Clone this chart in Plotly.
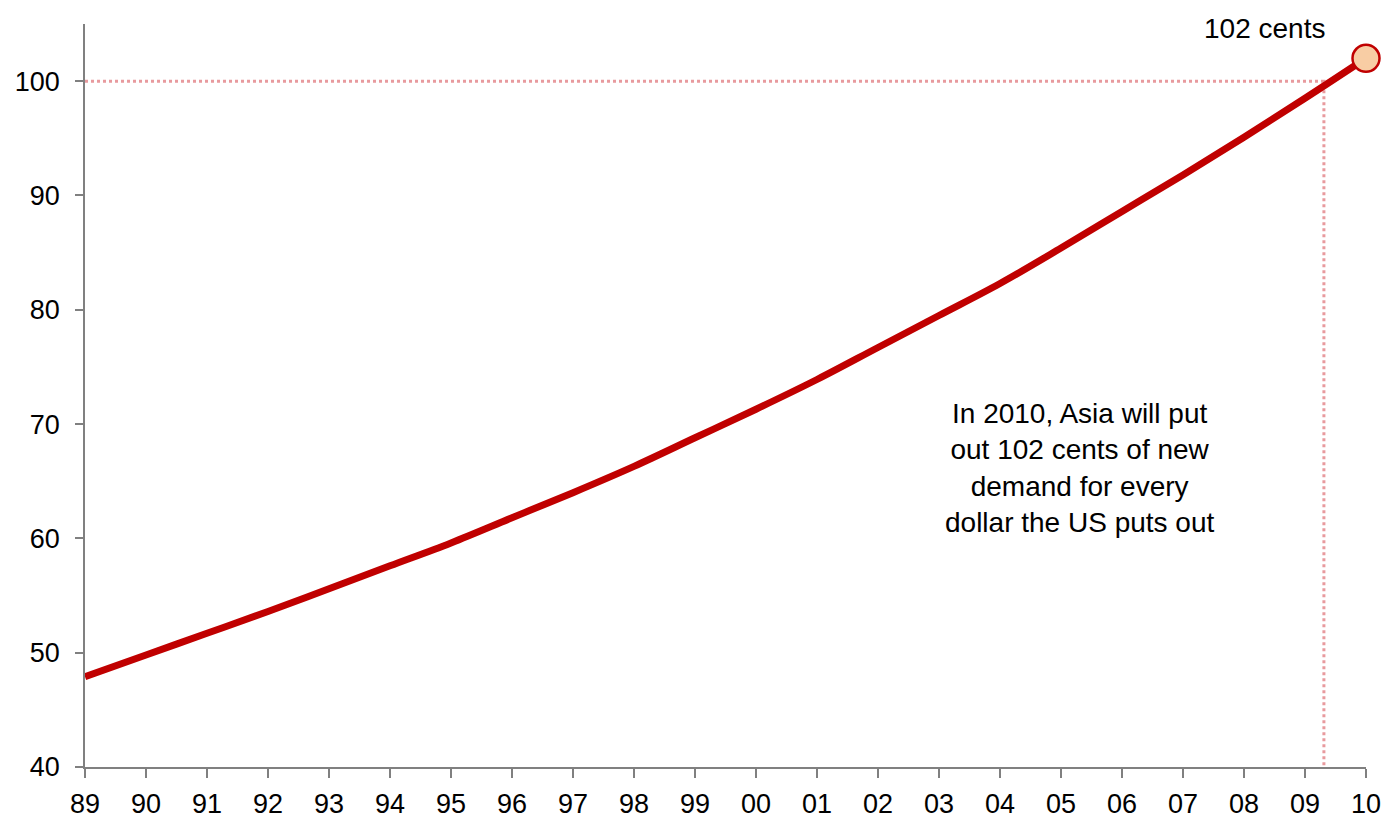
import plotly.graph_objects as go

# Asian new demand per US dollar of new demand, cents
years = list(range(1989, 2011))
year_labels = ["89", "90", "91", "92", "93", "94", "95", "96", "97", "98", "99",
               "00", "01", "02", "03", "04", "05", "06", "07", "08", "09", "10"]
cents = [47.9, 49.8, 51.7, 53.6, 55.6, 57.6, 59.6, 61.8, 64.0, 66.3, 68.8,
         71.3, 73.9, 76.7, 79.5, 82.3, 85.4, 88.6, 91.8, 95.1, 98.5, 102.0]

parity_level = 100
parity_year = 2009.31

red = "#C00000"
dot_pink = "#E89A9E"
family = "Liberation Sans, Arial, sans-serif"
tick_font = dict(family=family, size=27, color="#000000")
note_font = dict(family=family, size=28, color="#000000")

fig = go.Figure()

# parity guide lines
fig.add_trace(go.Scatter(
    x=[years[0], parity_year, parity_year], y=[parity_level, parity_level, 40],
    mode="lines", line=dict(color=dot_pink, width=3, dash="dot"),
    hoverinfo="skip", showlegend=False, cliponaxis=False))

fig.add_trace(go.Scatter(
    x=years, y=cents, mode="lines",
    line=dict(color=red, width=7, shape="spline"),
    showlegend=False, cliponaxis=False))

fig.add_trace(go.Scatter(
    x=[years[-1]], y=[cents[-1]], mode="markers",
    marker=dict(size=27, color="#F8CDA4", line=dict(color=red, width=2.5)),
    showlegend=False, cliponaxis=False))

fig.add_annotation(x=2008.33, y=104.6, xref="x", yref="y",
                   text="102 cents", showarrow=False, font=note_font,
                   xanchor="center", yanchor="middle")

fig.add_annotation(x=2005.3, y=66.2, xref="x", yref="y",
                   text="In 2010, Asia will put<br>out 102 cents of new<br>demand for every<br>dollar the US puts out",
                   showarrow=False, font=note_font,
                   align="center", xanchor="center", yanchor="middle")

fig.update_layout(
    width=1386, height=820,
    margin=dict(l=85, r=20, t=24, b=53),
    paper_bgcolor="white", plot_bgcolor="white",
    font=tick_font,
    xaxis=dict(range=[1989, 2010], tickvals=years, ticktext=year_labels,
               showgrid=False, zeroline=False, showline=True, automargin=False,
               linecolor="#808080", linewidth=1.5,
               ticks="outside", ticklen=9, tickcolor="#808080", tickwidth=1.5,
               tickfont=tick_font, ticklabelstandoff=3),
    yaxis=dict(range=[40, 105], tickvals=[40, 50, 60, 70, 80, 90, 100],
               showgrid=False, zeroline=False, showline=True, automargin=False,
               linecolor="#808080", linewidth=1.5,
               ticks="outside", ticklen=8, tickcolor="#808080", tickwidth=1.5,
               tickfont=tick_font, ticklabelstandoff=10),
)

fig.write_html("out.html")
